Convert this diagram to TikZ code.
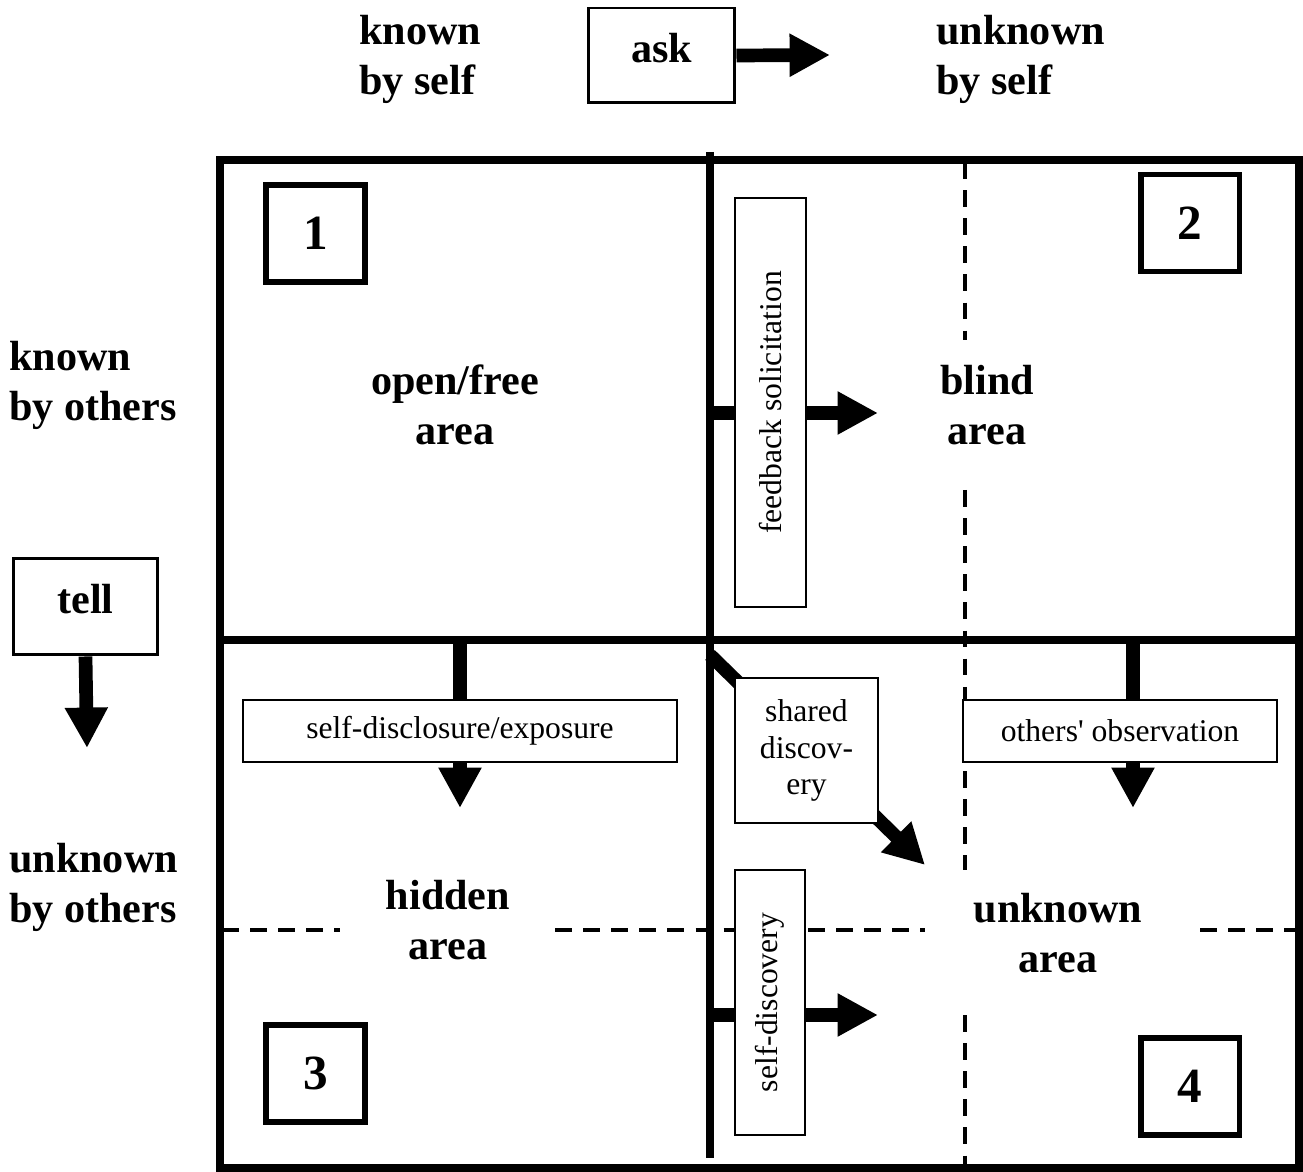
\documentclass[tikz,border=0pt]{standalone}
\usepackage{fontspec}
\setmainfont{Liberation Serif}
\usetikzlibrary{arrows.meta}
\tikzset{
    bigarrow/.style={line width=7.8pt, -{Triangle[length=23pt, width=23pt]}},
    labelbox/.style={draw, line width=1.1pt, fill=white, inner sep=0pt,
        font=\fontsize{18}{21}\selectfont, align=center},
    cmdbox/.style={draw, line width=1.7pt, fill=white, inner sep=0pt, text depth=0.32cm,
        font=\fontsize{24}{27}\selectfont\bfseries},
    numbox/.style={draw, line width=3.4pt, fill=white, minimum width=1.98cm,
        minimum height=1.94cm, font=\fontsize{28}{30}\selectfont\bfseries},
    bigtext/.style={font=\fontsize{24}{28.5}\selectfont\bfseries, align=center},
    sepline/.style={line width=2.2pt, dash pattern=on 9.5pt off 6.5pt}
}
\begin{document}
\begin{tikzpicture}[x=0.02cm, y=-0.02cm]
        \useasboundingbox (0,0) rectangle (1303,1172);
        % grid of the four areas
        \draw[line width=4pt] (220,160) rectangle (1299,1168);
        \draw[line width=4pt] (710,152) -- (710,1158);
        \draw[line width=4pt] (220,640) -- (1299,640);
        \draw[sepline] (965,162) -- (965,340);
        \draw[sepline] (965,490) -- (965,870);
        \draw[sepline] (965,1015) -- (965,1165);
        \draw[sepline] (222,930) -- (340,930);
        \draw[sepline] (555,930) -- (925,930);
        \draw[sepline] (1200,930) -- (1297,930);

        % arrow ends
        \coordinate (askend) at (830,55);
        \coordinate (tellend) at (87,748);
        \coordinate (fbstart) at (710,413);
        \coordinate (fbend) at (878,413);
        \coordinate (sdstart) at (460,640);
        \coordinate (sdend) at (460,808);
        \coordinate (oostart) at (1133,640);
        \coordinate (ooend) at (1133,808);
        \coordinate (shstart) at (710,655);
        \coordinate (shend) at (925,865);
        \coordinate (selfstart) at (710,1015);
        \coordinate (selfend) at (878,1015);

        \draw[bigarrow] (fbstart) -- (fbend);
        \draw[bigarrow] (sdstart) -- (sdend);
        \draw[bigarrow] (oostart) -- (ooend);
        \draw[bigarrow] (shstart) -- (shend);
        \draw[bigarrow] (selfstart) -- (selfend);

        % ask and tell
        \node[cmdbox, minimum width=2.94cm, minimum height=1.9cm] (ask)
            at (661.5,55.5) {ask};
        \node[cmdbox, minimum width=2.9cm, minimum height=1.94cm] (tell)
            at (85.5,606.5) {tell};
        \draw[bigarrow] (ask.east) -- (askend);
        \draw[bigarrow] (tell.south) -- (tellend);

        % numbered corners
        \foreach \n/\x/\y in {1/315.5/233.5, 2/1190/223, 3/315.5/1073.5, 4/1190/1086.5}
        {
            \node[numbox] (num\n) at (\x,\y) {\n};
        }

        % process boxes
        \node[labelbox, rotate=90, minimum width=8.18cm, minimum height=1.42cm]
            (feedback) at (770.5,402.5) {feedback solicitation};
        \node[labelbox, minimum width=8.68cm, minimum height=1.24cm]
            (disclosure) at (460,731) {self-disclosure/exposure};
        \node[labelbox, minimum width=6.28cm, minimum height=1.24cm]
            (observation) at (1120,731) {others\textquotesingle{} observation};
        \node[labelbox, minimum width=2.86cm, minimum height=2.9cm]
            (shared) at (806.5,750.5) {shared\\discov-\\ery};
        \node[labelbox, rotate=90, minimum width=5.3cm, minimum height=1.4cm]
            (selfdisc) at (770,1002.5) {self-discovery};

        % headings
        \node[bigtext, anchor=west, align=left] (knownself) at (353,59) {known\\by self};
        \node[bigtext, anchor=west, align=left] (unknownself) at (930,59) {unknown\\by self};
        \node[bigtext, anchor=west, align=left] (knownothers) at (3,385) {known\\by others};
        \node[bigtext, anchor=west, align=left] (unknownothers) at (3,887) {unknown\\by others};

        % area names
        \node[bigtext] (open) at (455,405) {open/free\\area};
        \node[bigtext] (blind) at (987,405) {blind\\area};
        \node[bigtext] (hidden) at (448,920) {hidden\\area};
        \node[bigtext] (unknown) at (1058,933) {unknown\\area};
    \end{tikzpicture}
\end{document}
